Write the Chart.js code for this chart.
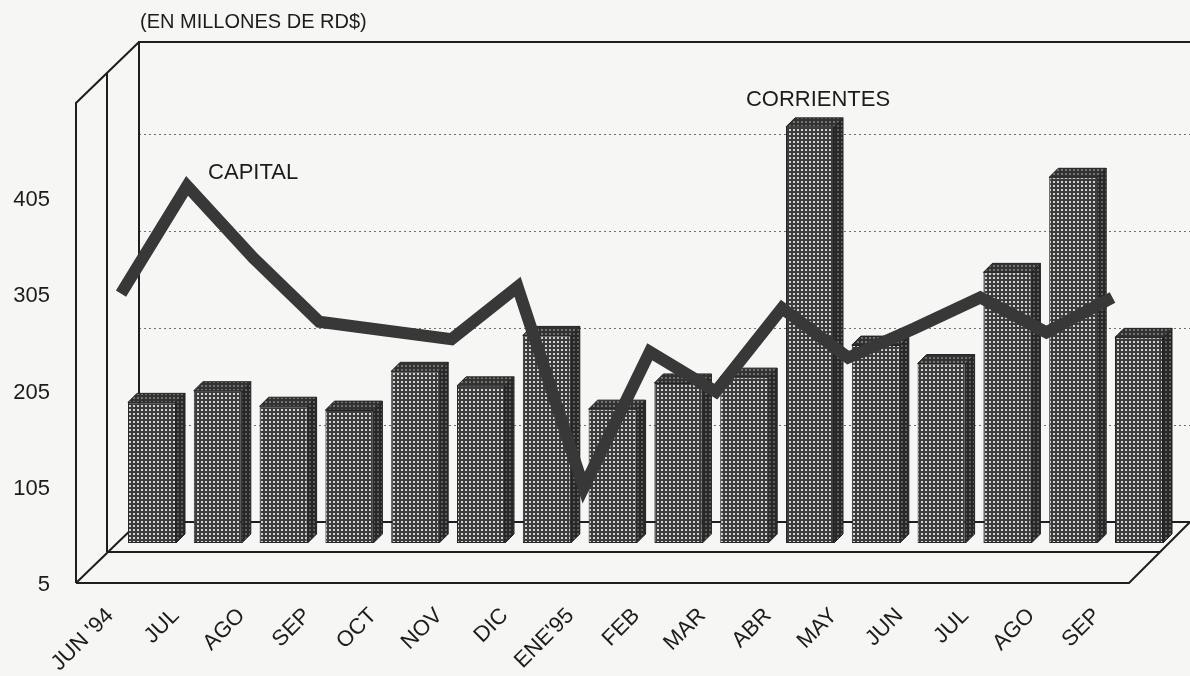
<!DOCTYPE html>
<html>
<head>
<meta charset="utf-8">
<script src="https://cdn.jsdelivr.net/npm/chart.js@4.4.1/dist/chart.umd.min.js"></script>
<style>
html,body{margin:0;padding:0;background:#f6f6f4;}
canvas{display:block;}
</style>
</head>
<body>
<canvas id="c" width="1190" height="676"></canvas>
<script>
// ---------------- data ----------------
const categories = ["JUN '94","JUL","AGO","SEP","OCT","NOV","DIC","ENE'95","FEB","MAR","ABR","MAY","JUN","JUL","AGO","SEP"];
const corrientes = [150,162,146,142,182,167,219,143,170,176,434,209,190,284,382,217];
const capital    = [292,403,329,263,254,245,299,92,232,191,277,226,256,288,252,288];
const yTickValues = [5,105,205,305,405];
const gridValues  = [105,205,305,405];
const baseValue   = 5;
const unitLabel   = "(EN MILLONES DE RD$)";

// ---------------- layout ----------------
const W = 1190, H = 676;
const CA = {left:139, right:1190, top:42, bottom:585};
const STEP = 65.8;          // category spacing in px
const FONT = '"Liberation Sans", Arial, Helvetica, sans-serif';
const INK = '#1c1c1c';
Chart.defaults.font.family = FONT;
Chart.defaults.color = INK;

function hRange(px0, step){
  const min = -(px0 - CA.left)/step;
  return {min:min, max:min + (CA.right-CA.left)/step, offset:false};
}
function vRange(v0, px0, k){
  const min = v0 - (CA.bottom - px0)/k;
  return {min:min, max:min + (CA.bottom-CA.top)/k, beginAtZero:false};
}

const canvas = document.getElementById('c');
const ctx = canvas.getContext('2d');
function makePattern(bg, dot, size, ds){
  const c = document.createElement('canvas');
  c.width = size; c.height = size;
  const g = c.getContext('2d');
  g.fillStyle = bg; g.fillRect(0,0,size,size);
  g.fillStyle = dot; g.fillRect(1,1,ds,ds);
  return ctx.createPattern(c,'repeat');
}
const frontPat = makePattern('#3c3c3c','#d2d2d2',4,2);
const sidePat  = makePattern('#282828','#5e5e5e',4,2);
const topPat   = makePattern('#323232','#727272',4,2);
const DEPTH = 9;

const deco = {
  id:'deco',
  beforeDatasetsDraw(chart){
    const c = chart.ctx;
    const yBack = chart.scales.yg.getPixelForValue(baseValue);
    c.save();
    c.strokeStyle = '#1e1e1e';
    c.lineWidth = 2;
    c.lineJoin = 'miter';
    c.beginPath();
    // back wall
    c.moveTo(CA.left, yBack); c.lineTo(CA.left, CA.top); c.lineTo(W, CA.top);
    c.moveTo(CA.left, yBack); c.lineTo(W, yBack);
    // left edges
    c.moveTo(76, 583); c.lineTo(76, 103); c.lineTo(CA.left, CA.top);
    c.moveTo(107, 552); c.lineTo(107, 73);
    c.moveTo(76, 583); c.lineTo(CA.left, yBack);
    // floor
    c.moveTo(76, 583); c.lineTo(1129, 583); c.lineTo(1190, yBack);
    c.moveTo(107, 552); c.lineTo(1160, 552);
    c.stroke();
    c.restore();
  },
  afterDatasetDraw(chart, args){
    if (args.index !== 0) return;
    const c = chart.ctx;
    c.save();
    c.strokeStyle = '#222222';
    c.lineWidth = 1;
    args.meta.data.forEach(el => {
      const p = el.getProps(['x','y','base','width'], true);
      const x0 = p.x - p.width/2, x1 = p.x + p.width/2;
      const top = Math.min(p.y, p.base), bot = Math.max(p.y, p.base);
      // side face
      c.beginPath();
      c.moveTo(x1, top); c.lineTo(x1+DEPTH, top-DEPTH); c.lineTo(x1+DEPTH, bot-DEPTH); c.lineTo(x1, bot); c.closePath();
      c.fillStyle = sidePat; c.fill(); c.stroke();
      // top face
      c.beginPath();
      c.moveTo(x0, top); c.lineTo(x0+DEPTH, top-DEPTH); c.lineTo(x1+DEPTH, top-DEPTH); c.lineTo(x1, top); c.closePath();
      c.fillStyle = topPat; c.fill(); c.stroke();
    });
    c.restore();
  },
  afterDatasetsDraw(chart){
    const c = chart.ctx;
    c.save();
    c.fillStyle = INK;
    c.textBaseline = 'middle';
    // unit label
    c.font = '20px ' + FONT;
    c.textAlign = 'left';
    c.fillText(unitLabel, CA.left + 1, 22);
    // series labels
    c.font = '22px ' + FONT;
    const lineMeta = chart.getDatasetMeta(1);
    const iCap = capital.indexOf(Math.max(...capital));
    const pt = lineMeta.data[iCap];
    c.textAlign = 'left';
    c.fillText(chart.data.datasets[1].label, pt.x + 21, pt.y - 13);
    const barMeta = chart.getDatasetMeta(0);
    const iCor = corrientes.indexOf(Math.max(...corrientes));
    const b = barMeta.data[iCor];
    c.textAlign = 'center';
    c.fillText(chart.data.datasets[0].label, b.x + 8, b.y - 27);
    c.restore();
  }
};

new Chart(ctx, {
  type:'bar',
  data:{
    datasets:[
      {
        type:'bar',
        label:'CORRIENTES',
        data: corrientes.map((v,i)=>({x:i, y:[baseValue, v]})),
        xAxisID:'xb', yAxisID:'yb',
        backgroundColor: frontPat,
        borderColor:'#262626',
        borderWidth:1,
        borderSkipped:false,
        grouped:false,
        categoryPercentage:1,
        barPercentage:48/STEP,
        order:2,
        clip:false
      },
      {
        type:'line',
        label:'CAPITAL',
        data: capital.map((v,i)=>({x:i, y:v})),
        xAxisID:'xl', yAxisID:'yl',
        borderColor:'#383838',
        borderWidth:12,
        borderJoinStyle:'miter',
        borderCapStyle:'butt',
        pointRadius:0,
        tension:0,
        order:1,
        clip:false
      }
    ]
  },
  options:{
    responsive:false,
    animation:false,
    layout:{padding:{top:CA.top, left:0, right:0, bottom:0}},
    plugins:{legend:{display:false}, tooltip:{enabled:false}, title:{display:false}},
    scales:{
      xb: Object.assign({type:'linear', display:false, grid:{offset:false}}, hRange(152, STEP)),
      xl: Object.assign({type:'linear', display:false, grid:{offset:false}}, hRange(121, 66.1)),
      xt: Object.assign({
        type:'linear', position:'bottom',
        afterBuildTicks: s => { s.ticks = categories.map((_,i)=>({value:i})); },
        afterFit: s => { s.height = H - CA.bottom; s.paddingLeft = 0; s.paddingRight = 0; },
        grid:{display:false, offset:false}, border:{display:false},
        ticks:{autoSkip:false, minRotation:45, maxRotation:45, padding:10,
               font:{size:22}, color:INK,
               callback: v => categories[Math.round(v)]}
      }, hRange(110, STEP)),
      yb: Object.assign({type:'linear', display:false}, vRange(baseValue, 543, 0.97)),
      yl: Object.assign({type:'linear', display:false}, vRange(baseValue, 572, 0.97)),
      yt: Object.assign({
        type:'linear', position:'left',
        afterBuildTicks: s => { s.ticks = yTickValues.map(v=>({value:v})); },
        afterFit: s => { s.width = CA.left; s.paddingTop = 0; s.paddingBottom = 0; },
        grid:{display:false}, border:{display:false},
        ticks:{padding:81, font:{size:22}, color:INK, callback: v => String(v)}
      }, vRange(baseValue, 585, 0.9625)),
      yg: Object.assign({
        type:'linear', position:'right',
        afterBuildTicks: s => { s.ticks = gridValues.map(v=>({value:v})); },
        afterFit: s => { s.width = 0; s.paddingTop = 0; s.paddingBottom = 0; },
        ticks:{display:false},
        grid:{color:'#707070', lineWidth:1, drawTicks:false},
        border:{display:false, dash:[2,3]}
      }, vRange(baseValue, 522, 0.97))
    }
  },
  plugins:[deco]
});
</script>
</body>
</html>
